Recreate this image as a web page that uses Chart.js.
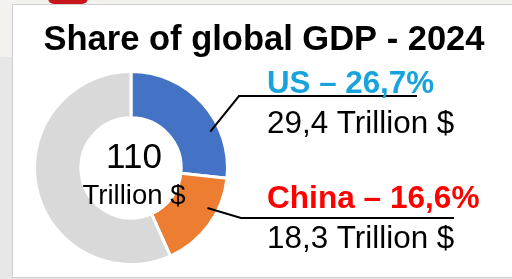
<!DOCTYPE html>
<html>
<head>
<meta charset="utf-8">
<script src="https://cdn.jsdelivr.net/npm/chart.js@4"></script>
<style>
  html, body { margin: 0; padding: 0; }
  body { width: 512px; height: 279px; position: relative; overflow: hidden; background: #e7e7e7; }
  #topStrip { position: absolute; left: 0; top: 0; width: 512px; height: 57px; background: #f4f2ef; }
  #redTab { position: absolute; left: 48px; top: -8px; width: 40px; height: 12px; border-radius: 8px; background: #c8161d; }
  #frame { position: absolute; left: 12px; top: 4px; width: 520px; height: 272px; background: #fff; border: 1px solid #cfcfcf; }
  #wrap { position: absolute; left: 0; top: 0; width: 512px; height: 279px; }
</style>
</head>
<body>
<div id="topStrip"></div>
<div id="redTab"></div>
<div id="frame"></div>
<div id="wrap"><canvas id="gdpChart"></canvas></div>
<script>
const TITLE = 'Share of global GDP - 2024';
const SEGMENTS = ['US', 'China', 'Rest of world'];
const SHARES = [26.7, 16.6, 56.7];
const GDP_TRILLIONS = [29.4, 18.3];
const TOTAL_TRILLIONS = 110;
const SEGMENT_COLORS = ['#4472c4', '#ed7d31', '#d9d9d9'];
const LABEL_COLORS = ['#18a3dc', '#ff0000'];

const FONT = '"Liberation Sans", Arial, sans-serif';
const fmt = v => v.toFixed(1).replace('.', ',');

// callout layout: where the leader leaves the slice, elbow, line end, text
const CALLOUTS = [
  { angleFrac: 0.68, radFrac: 0.80, elbow: [239, 96], endX: 417, textX: 267, headY: 93, subY: 133, headSize: 31.3 },
  { angleFrac: 0.36, radFrac: 0.78, elbow: [241, 218], endX: 454, textX: 267, headY: 208, subY: 248, headSize: 31.6 },
];

const overlay = {
  id: 'overlay',
  afterDraw(chart) {
    const ctx = chart.ctx;
    const meta = chart.getDatasetMeta(0);
    ctx.save();

    ctx.fillStyle = '#000';
    ctx.textAlign = 'center';
    ctx.textBaseline = 'alphabetic';
    ctx.font = `bold 34.5px ${FONT}`;
    ctx.fillText(TITLE, 264, 50);

    const c = meta.data[0];
    ctx.font = `35px ${FONT}`;
    ctx.fillText(String(TOTAL_TRILLIONS), c.x + 3, 168);
    ctx.font = `27.5px ${FONT}`;
    ctx.fillText('Trillion $', c.x + 3, 204);

    CALLOUTS.forEach((co, i) => {
      const arc = meta.data[i];
      const p = arc.getProps(['x', 'y', 'startAngle', 'endAngle', 'innerRadius', 'outerRadius'], true);
      const a = p.startAngle + co.angleFrac * (p.endAngle - p.startAngle);
      const r = p.innerRadius + co.radFrac * (p.outerRadius - p.innerRadius);
      ctx.strokeStyle = '#000';
      ctx.lineWidth = 2;
      ctx.beginPath();
      ctx.moveTo(p.x + Math.cos(a) * r, p.y + Math.sin(a) * r);
      ctx.lineTo(co.elbow[0], co.elbow[1]);
      ctx.lineTo(co.endX, co.elbow[1]);
      ctx.stroke();

      ctx.textAlign = 'left';
      ctx.fillStyle = LABEL_COLORS[i];
      ctx.font = `bold ${co.headSize}px ${FONT}`;
      ctx.fillText(`${SEGMENTS[i]} \u2013 ${fmt(SHARES[i])}%`, co.textX, co.headY);
      ctx.fillStyle = '#000';
      ctx.font = `31.4px ${FONT}`;
      ctx.fillText(`${fmt(GDP_TRILLIONS[i])} Trillion $`, co.textX, co.subY);
    });
    ctx.restore();
  }
};

new Chart(document.getElementById('gdpChart'), {
  type: 'doughnut',
  data: {
    labels: SEGMENTS,
    datasets: [{
      data: SHARES,
      backgroundColor: SEGMENT_COLORS,
      borderColor: '#ffffff',
      borderWidth: 3,
    }],
  },
  options: {
    responsive: true,
    maintainAspectRatio: false,
    animation: false,
    cutout: '52%',
    layout: { padding: { left: 33, top: 70, right: 283, bottom: 13 } },
    plugins: { legend: { display: false }, tooltip: { enabled: false }, title: { display: false } },
  },
  plugins: [overlay],
});
</script>
</body>
</html>
